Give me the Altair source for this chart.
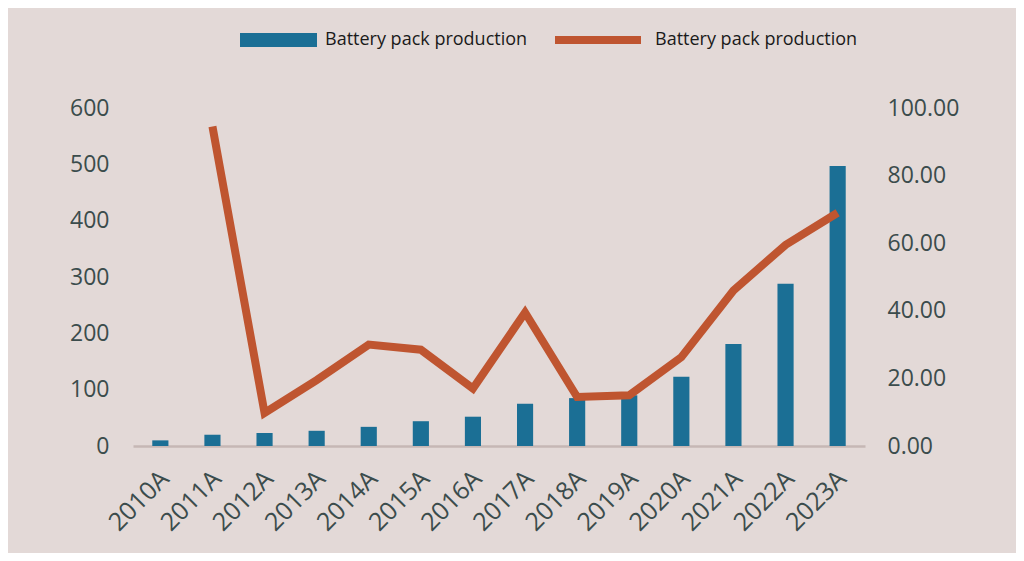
import altair as alt
import pandas as pd

years = ["2010A", "2011A", "2012A", "2013A", "2014A", "2015A", "2016A",
         "2017A", "2018A", "2019A", "2020A", "2021A", "2022A", "2023A"]
production = [10, 20, 23, 27, 34, 44, 52, 75, 85, 90, 123, 181, 288, 497]
growth = [None, 94.5, 9.8, 19.5, 30.0, 28.5, 17.0, 39.5, 14.5, 15.0, 26.3, 46.0, 59.5, 69.0]
series_name = "Battery pack production"

df = pd.DataFrame({
    "year": years,
    "production": production,
    "growth": growth,
    "s_bar": [series_name] * len(years),
    "s_line": [series_name] * len(years),
})

BG = "#e3d9d7"
BLUE = "#1b6f95"
ORANGE = "#bf5530"
TXT = "#3b4c4c"
FONT = "Open Sans"

x_enc = alt.X(
    "year:N",
    sort=years,
    title=None,
    scale=alt.Scale(paddingInner=0.69, paddingOuter=0.37),
    axis=alt.Axis(
        labelAngle=315,
        labelFontSize=25,
        labelColor=TXT,
        labelFont=FONT,
        labelPadding=20,
        labelOffset=-4,
        ticks=False,
        domainColor="#c6b7b5",
        domainWidth=2.5,
        grid=False,
    ),
)

bars = alt.Chart(df).mark_bar(color=BLUE).encode(
    x=x_enc,
    y=alt.Y(
        "production:Q",
        title=None,
        scale=alt.Scale(domain=[0, 600], nice=False),
        axis=alt.Axis(
            values=[0, 100, 200, 300, 400, 500, 600],
            labelFontSize=23,
            labelColor=TXT,
            labelFont=FONT,
            labelPadding=24,
            domain=False,
            ticks=False,
            grid=False,
        ),
    ),
    color=alt.Color(
        "s_bar:N",
        scale=alt.Scale(range=[BLUE]),
        legend=alt.Legend(
            title=None,
            orient="none",
            legendX=107,
            legendY=-106.5,
            symbolType="M-1,-0.182H1V0.182H-1Z",
            symbolSize=5929,
            symbolStrokeWidth=0,
            symbolOpacity=1,
            labelFontSize=18,
            labelFont=FONT,
            labelColor="#1a1a1a",
            labelOffset=8,
            labelLimit=400,
        ),
    ),
)

line = alt.Chart(df).mark_line(strokeWidth=8, color=ORANGE).encode(
    x=alt.X("year:N", sort=years),
    y=alt.Y(
        "growth:Q",
        title=None,
        scale=alt.Scale(domain=[0, 100], nice=False),
        axis=alt.Axis(
            orient="right",
            values=[0, 20, 40, 60, 80, 100],
            format=".2f",
            labelFontSize=23,
            labelColor=TXT,
            labelFont=FONT,
            labelPadding=22,
            domain=False,
            ticks=False,
            grid=False,
        ),
    ),
    stroke=alt.Stroke(
        "s_line:N",
        scale=alt.Scale(range=[ORANGE]),
        legend=alt.Legend(
            title=None,
            orient="none",
            legendX=418,
            legendY=-115,
            symbolType="stroke",
            symbolSize=7396,
            symbolStrokeWidth=8,
            labelFontSize=18,
            labelFont=FONT,
            labelColor="#1a1a1a",
            labelOffset=10,
            labelLimit=400,
        ),
    ),
)

chart = (
    alt.layer(bars, line)
    .resolve_scale(y="independent", color="independent", stroke="independent")
    .properties(
        width=732,
        height=338,
        background=BG,
        autosize=alt.AutoSizeParams(type="none"),
        padding={"left": 125, "top": 100, "right": 151, "bottom": 107},
    )
    .configure_view(stroke=None)
)

chart.save("out.html", embed_options={"renderer": "svg", "actions": False})
